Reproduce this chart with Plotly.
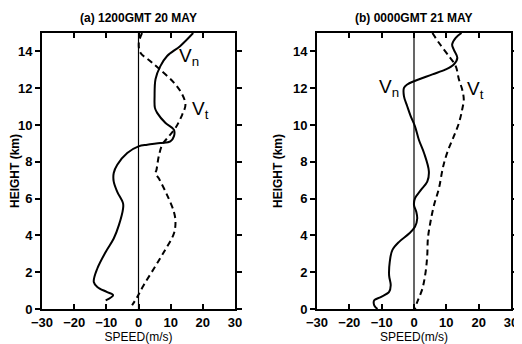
import plotly.graph_objects as go

# Panel (a) 1200GMT 20 MAY
a_vn_speed = [17.0, 13.0, 8.9, 6.8, 5.3, 5.0, 5.1, 5.8, 8.4, 11.0, 11.0, 9.9, 6.8, 2.7, 0.0, -3.5, -6.6, -7.7,
              -7.7, -6.6, -4.8, -4.8, -6.1, -7.7, -10.2, -12.8, -13.9, -12.8, -9.9, -7.9, -10.2]
a_vn_height = [15.0, 14.3, 13.75, 13.2, 12.5, 11.55, 10.93, 10.66, 10.11, 9.75, 9.38, 9.11, 9.02, 8.93, 8.84, 8.48, 7.84, 7.39,
               6.92, 6.37, 5.74, 5.46, 4.56, 3.83, 3.10, 2.2, 1.47, 1.2, 0.93, 0.75, 0.47]
a_vt_speed = [1.1, 0.1, 0.6, 3.7, 6.8, 11.0, 13.6, 14.6, 13.6, 11.5, 9.4, 7.4, 6.3, 5.6, 5.3, 6.3, 8.9, 11.0, 11.5,
              11.0, 7.9, 4.8, 1.6, -0.4, -2.0]
a_vt_height = [15.0, 14.47, 13.93, 13.47, 13.0, 12.3, 11.66, 11.1, 10.57, 9.84, 9.38, 8.93, 8.3, 7.57, 7.37, 7.1, 6.19,
               5.28, 4.74, 4.1, 3.1, 2.2, 1.29, 0.65, 0.2]

# Panel (b) 0000GMT 21 MAY
b_vn_speed = [14.7, 12.9, 11.8, 12.3, 13.4, 12.3, 9.8, 5.7, 0.0, -2.1, -3.1, -3.1, -2.1, -1.0, 0.3, 1.5, 3.1, 4.6,
              4.1, 2.1, 0.3, 0.0, 0.7, 1.0, 0.3, -1.5, -4.6, -6.7, -7.5, -7.7, -7.2, -7.7, -10.3, -12.3, -12.3, -11.3]
b_vn_height = [15.0, 14.74, 14.38, 14.1, 13.65, 13.29, 13.02, 12.75, 12.38, 12.2, 12.02, 11.56, 11.02, 10.47, 9.93, 9.2,
               8.48, 7.48, 6.92, 6.46, 6.01, 5.65, 5.28, 4.92, 4.47, 4.1, 3.65, 3.2, 2.56, 1.83, 1.29, 0.93, 0.65,
               0.47, 0.2, 0.0]
b_vt_speed = [5.7, 7.7, 10.8, 12.9, 13.9, 14.9, 15.4, 14.9, 13.9, 12.3, 10.6, 9.3, 8.7, 7.7, 6.2, 5.1, 4.3, 4.1, 3.6,
              2.6, 1.0, 0.3]
b_vt_height = [15.0, 14.47, 13.74, 13.2, 12.47, 11.93, 11.38, 10.84, 10.11, 9.38, 8.66, 7.94, 7.48, 6.55, 5.65, 4.74,
               3.83, 2.92, 2.02, 1.11, 0.38, 0.0]

titles = ["(a) 1200GMT 20 MAY", "(b) 0000GMT 21 MAY"]
x_ticks = [-30, -20, -10, 0, 10, 20, 30]
x_tick_labels = ["\u221230", "\u221220", "\u221210", "0", "10", "20", "30"]
y_ticks = [0, 2, 4, 6, 8, 10, 12, 14]
y_tick_labels = ["0", "2", "4", "6", "8", "10", "12", "14"]

FONT = "Liberation Sans"
W, H, OFF = 522, 344, 8  # page body margin offset


def xd(px):
    return (px - OFF) / W


def yd(py):
    return 1 - (py - OFF) / H


fig = go.Figure()

line_solid = dict(color="black", width=2)
line_dash = dict(color="black", width=2, dash="6px,4px")

fig.add_trace(go.Scatter(x=a_vn_speed, y=a_vn_height, mode="lines", line=dict(line_solid, shape="spline"),
                         xaxis="x", yaxis="y", showlegend=False))
fig.add_trace(go.Scatter(x=a_vt_speed, y=a_vt_height, mode="lines", line=dict(line_dash, shape="spline"),
                         xaxis="x", yaxis="y", showlegend=False))
fig.add_trace(go.Scatter(x=b_vn_speed, y=b_vn_height, mode="lines", line=dict(line_solid, shape="spline"),
                         xaxis="x2", yaxis="y2", showlegend=False))
fig.add_trace(go.Scatter(x=b_vt_speed, y=b_vt_height, mode="lines", line=dict(line_dash, shape="spline"),
                         xaxis="x2", yaxis="y2", showlegend=False))


def xax(domain, anchor):
    return dict(domain=domain, anchor=anchor, range=[-30, 30], tickvals=x_ticks, automargin=False,
                ticktext=["<b>" + t + "</b>" for t in x_tick_labels], ticks="inside", ticklen=5,
                tickwidth=1.5, tickcolor="black", showline=True, linecolor="black", linewidth=2, mirror="ticks",
                showgrid=False, zeroline=False, tickfont=dict(family=FONT, size=13, color="black"),
                title=dict(text="SPEED(m/s)", font=dict(family=FONT, size=12, color="black"), standoff=4))


def yax(domain, anchor):
    return dict(domain=domain, anchor=anchor, range=[0, 15], tickvals=y_ticks, automargin=False,
                ticktext=["<b>" + t + "</b>" for t in y_tick_labels], ticks="outside", ticklen=5,
                tickwidth=1.5, tickcolor="black", showline=True, linecolor="black", linewidth=2, mirror="ticks",
                showgrid=False, zeroline=False, tickfont=dict(family=FONT, size=13, color="black"),
                title=dict(text="<b>HEIGHT (km)</b>", font=dict(family=FONT, size=12, color="black"),
                           standoff=8))


fig.update_layout(
    width=W, height=H,
    margin=dict(l=0, r=0, t=0, b=0, autoexpand=False),
    paper_bgcolor="white", plot_bgcolor="white",
    xaxis=xax([xd(42), xd(235)], "y"),
    yaxis=yax([yd(309), yd(33)], "x"),
    xaxis2=xax([xd(317), xd(511)], "y2"),
    yaxis2=yax([yd(309), yd(33)], "x2"),
)

for xr, yr in [("x", "y"), ("x2", "y2")]:
    fig.add_shape(type="line", xref=xr, yref=yr + " domain", x0=0, x1=0, y0=0, y1=1,
                  line=dict(color="black", width=1.2))

ann_font = dict(family=FONT, size=19, color="black")
fig.add_annotation(x=15.8, y=13.7, xref="x", yref="y", text="V<sub>n</sub>", showarrow=False, font=ann_font)
fig.add_annotation(x=19.3, y=10.8, xref="x", yref="y", text="V<sub>t</sub>", showarrow=False, font=ann_font)
fig.add_annotation(x=-7.6, y=12.0, xref="x2", yref="y2", text="V<sub>n</sub>", showarrow=False, font=ann_font)
fig.add_annotation(x=18.9, y=11.9, xref="x2", yref="y2", text="V<sub>t</sub>", showarrow=False, font=ann_font)

tfont = dict(family=FONT, size=12, color="black")
fig.add_annotation(x=0.5, y=yd(18), xref="x domain", yref="paper", yanchor="middle",
                   text="<b>" + titles[0] + "</b>", showarrow=False, font=tfont)
fig.add_annotation(x=0.5, y=yd(18), xref="x2 domain", yref="paper", yanchor="middle",
                   text="<b>" + titles[1] + "</b>", showarrow=False, font=tfont)

fig.write_html("out.html")
